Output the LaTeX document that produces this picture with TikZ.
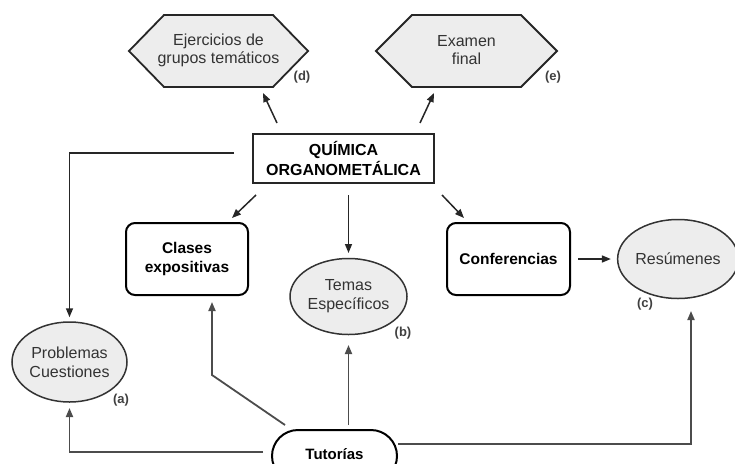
\documentclass[tikz,border=0pt]{standalone}
\usepackage{fontspec}
\setmainfont{Liberation Sans}
\usetikzlibrary{arrows.meta,calc,shapes.geometric,shapes.misc}
\begin{document}
\begin{tikzpicture}[x=1pt,y=-1pt,
  arr/.style={draw=black!85, line width=1.5pt, -{Triangle[length=9pt,width=7pt]}},
  tarr/.style={draw=black!70, line width=1.8pt, -{Triangle[length=9pt,width=7pt]}},
  oval/.style={ellipse, draw=black!80, line width=1.5pt, fill=black!7, text=black!80,
    font=\fontsize{16}{19}\selectfont, align=center, inner sep=0pt},
  rbox/.style={rectangle, rounded corners=9pt, draw=black, line width=2pt, fill=white,
    font=\bfseries\fontsize{15.5}{19}\selectfont, align=center,
    minimum width=122pt, minimum height=72pt, inner sep=0pt},
  hexline/.style={draw=black!85, line width=1.8pt, fill=black!7},
  hexlbl/.style={font=\fontsize{16}{18}\selectfont, text=black!80, align=center, inner sep=0pt},
  tag/.style={font=\bfseries\fontsize{13}{13}\selectfont, text=black!75, inner sep=0pt},
]
\useasboundingbox (0,0) rectangle (735,463);

% hexagons
\coordinate (ejc) at (218.5,51);
\draw[hexline] ($(ejc)+(-89.5,0)$) -- ($(ejc)+(-54.5,-36)$) -- ($(ejc)+(54.5,-36)$)
  -- ($(ejc)+(89.5,0)$) -- ($(ejc)+(54.5,36)$) -- ($(ejc)+(-54.5,36)$) -- cycle;
\node[hexlbl] (ej) at (218.5,50) {Ejercicios de\\grupos temáticos};
\node[tag] (tagd) at (302,77) {(d)};

\coordinate (exc) at (466.5,51);
\draw[hexline] ($(exc)+(-90.5,0)$) -- ($(exc)+(-54.5,-36)$) -- ($(exc)+(54.5,-36)$)
  -- ($(exc)+(90.5,0)$) -- ($(exc)+(54.5,36)$) -- ($(exc)+(-54.5,36)$) -- cycle;
\node[hexlbl] (ex) at (466.5,50) {Examen\\final};
\node[tag] (tage) at (553,77) {(e)};

% central box
\node[draw=black!85, line width=2.2pt, minimum width=181pt, minimum height=49pt, inner sep=0pt,
  font=\bfseries\fontsize{16}{20}\selectfont, align=center] (chem) at (343.5,158.5)
  {QUÍMICA\\ORGANOMETÁLICA};

% boxes
\node[rbox] (clases) at (187,259) {Clases\\expositivas};
\node[rbox, minimum width=123pt] (conf) at (508.5,259) {Conferencias};

% ellipses
\node[oval, minimum width=115pt, minimum height=80pt] (prob) at (69.5,362) {Problemas\\Cuestiones};
\node[tag] (taga) at (121,400) {(a)};
\node[oval, minimum width=117pt, minimum height=76pt] (temas) at (348.5,296.5) {Temas\\Específicos};
\node[tag] (tagb) at (403,333) {(b)};
\node[oval, minimum width=110pt, minimum height=79pt] (res) at (678,259) {Resúmenes};
\node[tag] (tagc) at (645,304) {(c)};

% tutorias
\node[rounded rectangle, draw=black, line width=2pt, fill=white, minimum width=125pt,
  minimum height=52pt, inner sep=0pt, font=\bfseries\fontsize{15}{15}\selectfont] (tut)
  at (334.5,456) {\raisebox{4pt}{Tutorías}};

% connector end points
\coordinate (a1) at (234,153);
\coordinate (a2s) at (277,123); \coordinate (a2e) at (263,93);
\coordinate (a3s) at (420,123); \coordinate (a3e) at (434,93);
\coordinate (a4s) at (256,195); \coordinate (a4e) at (232,218);
\coordinate (a5s) at (348.5,195); \coordinate (a5e) at (348.5,253);
\coordinate (a6s) at (442,195); \coordinate (a6e) at (464,218);
\coordinate (t1) at (263,452); \coordinate (t1e) at (69.5,408);
\coordinate (t2) at (285,425); \coordinate (t2b) at (212,375); \coordinate (t2e) at (212,302);
\coordinate (t3) at (348.5,425); \coordinate (t3e) at (348.5,345);
\coordinate (t4) at (398,444); \coordinate (t4e) at (691,311);

% connectors from the centre
\draw[arr] (a1) -| ($(prob.north)+(0,-4)$);
\draw[arr] (a2s) -- (a2e);
\draw[arr] (a3s) -- (a3e);
\draw[arr] (a4s) -- (a4e);
\draw[arr] (a5s) -- (a5e);
\draw[arr] (a6s) -- (a6e);
\draw[arr] ($(conf.east)+(7,0)$) -- ($(res.west)+(-6,0)$);

% connectors from tutorias
\draw[tarr] (t1) -| (t1e);
\draw[tarr] (t2) -- (t2b) -- (t2e);
\draw[tarr] (t3) -- (t3e);
\draw[tarr] (t4) -| (t4e);
\end{tikzpicture}
\end{document}
